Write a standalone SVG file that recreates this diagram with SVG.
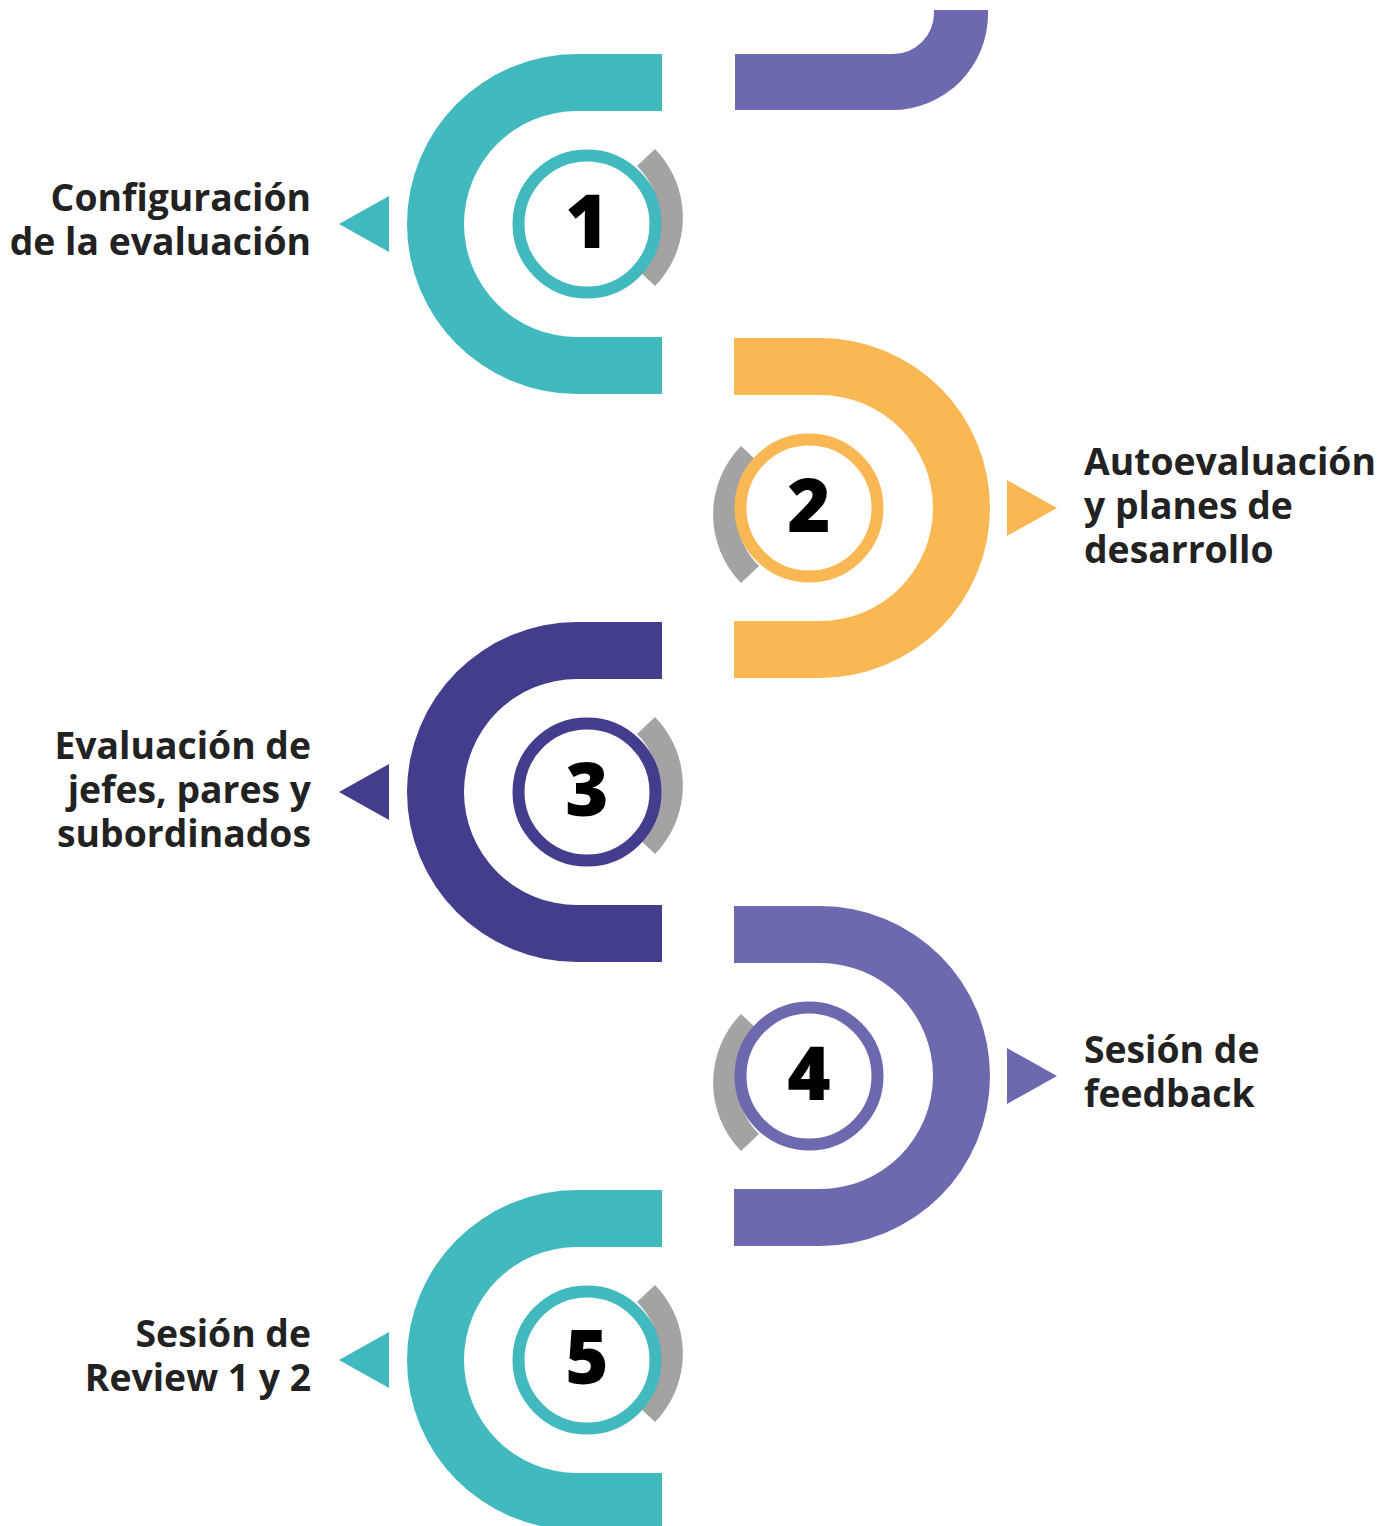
<svg xmlns="http://www.w3.org/2000/svg" width="1395" height="1526" viewBox="0 0 1395 1526">
<style>
.teal{fill:#41B9BE}.orange{fill:#F9B854}.dark{fill:#433D8E}.purple{fill:#6D69AE}
.gray{fill:#A3A3A3}
.ring{fill:#FFFFFF;stroke-width:12}
.num{font-family:"Open Sans","Liberation Sans",sans-serif;font-weight:800;font-size:74px;fill:#000;text-anchor:middle}
.lbl{font-family:"Open Sans","Liberation Sans",sans-serif;font-weight:700;font-size:37.3px;fill:#222222}
.l{text-anchor:end}.r{text-anchor:start}
</style>
<defs>
<path id="cshape" d="M662,-170 H577 A170,170 0 0 0 577,170 H662 V113 H577 A113,113 0 0 1 577,-113 H662 Z"/>
<path id="dshape" d="M734,-170 H820 A170,170 0 0 1 820,170 H734 V113 H820 A113,113 0 0 0 820,-113 H734 Z"/>
<path id="grayR" d="M655,-75 A98,98 0 0 1 655,62 L637,45 A72,72 0 0 0 637,-58 Z"/>
<path id="grayL" d="M741,75 A98,98 0 0 1 741,-62 L759,-45 A72,72 0 0 0 759,58 Z"/>
</defs>
<rect width="1395" height="1526" fill="#FFFFFF"/>
<g id="top-band">
<path class="purple" d="M735,54 H893 A41,41 0 0 0 934,13 V10 H988 V14 A96,96 0 0 1 892,110 H735 Z"/>
</g>
<g id="step1" transform="translate(0,224)">
<use href="#cshape" class="teal"/>
<use href="#grayR" class="gray"/>
<circle cx="587" cy="0" r="68.5" class="ring" stroke="#41B9BE"/>
<text class="num" x="587" y="24">1</text>
<polygon class="teal" points="339,0 389,-28 389,28"/>
<text class="lbl l" x="311" y="-13">Configuración</text>
<text class="lbl l" x="311" y="31">de la evaluación</text>
</g>
<g id="step2" transform="translate(0,508)">
<use href="#dshape" class="orange"/>
<use href="#grayL" class="gray"/>
<circle cx="809" cy="0" r="68.5" class="ring" stroke="#F9B854"/>
<text class="num" x="809" y="24">2</text>
<polygon class="orange" points="1057,0 1007,-28 1007,28"/>
<text class="lbl r" x="1084" y="-33">Autoevaluación</text>
<text class="lbl r" x="1084" y="11">y planes de</text>
<text class="lbl r" x="1084" y="55">desarrollo</text>
</g>
<g id="step3" transform="translate(0,792)">
<use href="#cshape" class="dark"/>
<use href="#grayR" class="gray"/>
<circle cx="587" cy="0" r="68.5" class="ring" stroke="#433D8E"/>
<text class="num" x="587" y="24">3</text>
<polygon class="dark" points="339,0 389,-28 389,28"/>
<text class="lbl l" x="311" y="-33">Evaluación de</text>
<text class="lbl l" x="311" y="11">jefes, pares y</text>
<text class="lbl l" x="311" y="55">subordinados</text>
</g>
<g id="step4" transform="translate(0,1076)">
<use href="#dshape" class="purple"/>
<use href="#grayL" class="gray"/>
<circle cx="809" cy="0" r="68.5" class="ring" stroke="#6D69AE"/>
<text class="num" x="809" y="24">4</text>
<polygon class="purple" points="1057,0 1007,-28 1007,28"/>
<text class="lbl r" x="1084" y="-13">Sesión de</text>
<text class="lbl r" x="1084" y="31">feedback</text>
</g>
<g id="step5" transform="translate(0,1360)">
<use href="#cshape" class="teal"/>
<use href="#grayR" class="gray"/>
<circle cx="587" cy="0" r="68.5" class="ring" stroke="#41B9BE"/>
<text class="num" x="587" y="24">5</text>
<polygon class="teal" points="339,0 389,-28 389,28"/>
<text class="lbl l" x="311" y="-13">Sesión de</text>
<text class="lbl l" x="311" y="31">Review 1 y 2</text>
</g>
<g id="connectors"></g>
</svg>
